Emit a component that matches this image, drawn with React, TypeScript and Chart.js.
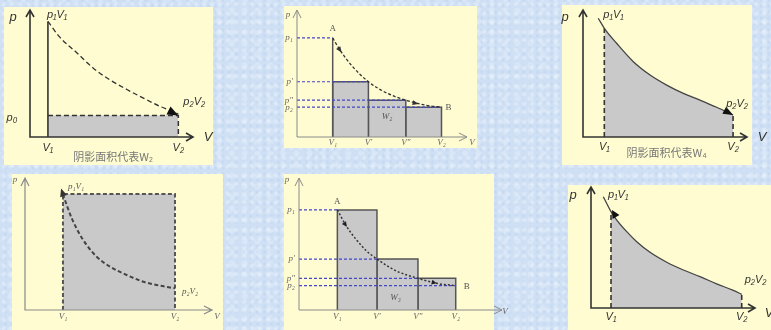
import React, { useEffect, useRef } from "react";
import { Chart, registerables } from "chart.js";
Chart.register(...registerables);

const W = 771;
const H = 330;

// ---------- Panel A (top-left): expansion against constant p0 ----------
const aV = [1.1, 9.1];
const aVLabels = ["V₁", "V₂"];
const aP0 = [1.7];
const aCurveV = [1.1, 1.8, 2.9, 3.9, 4.9, 6.0, 6.9, 8.0, 8.8, 9.1];
const aCurveP = [9.1, 7.9, 6.6, 5.4, 4.5, 3.7, 3.1, 2.4, 2.0, 1.8];
const aCaption = "阴影面积代表W₂";

// ---------- Panel B (top-middle): lower staircase ----------
const bV = [2.1, 4.2, 6.4, 8.5];
const bVLabels = ["V₁", "V′", "V″", "V₂"];
const bP = [7.8, 4.35, 2.9, 2.35];
const bPLabels = ["p₁", "p′", "p″", "p₂"];
const bCurveV = [2.1, 2.6, 3.3, 4.2, 5.3, 6.4, 7.6, 8.5];
const bCurveP = [7.8, 6.7, 5.5, 4.35, 3.45, 2.9, 2.5, 2.35];

// ---------- Panel C (top-right): reversible expansion ----------
const cCurveV = [0.93, 1.3, 2.05, 3.07, 4.09, 5.1, 6.12, 7.13, 8.15, 9.15];
const cCurveP = [9.35, 8.56, 7.38, 5.93, 4.88, 4.09, 3.44, 2.91, 2.34, 1.73];
const cVLabels = ["V₁", "V₂"];
const cCaption = "阴影面积代表W₄";

// ---------- Panel D (bottom-left): compression at constant p1 ----------
const dCurveV = [2.03, 2.23, 2.5, 2.85, 3.3, 3.83, 4.55, 5.44, 6.33, 7.22, 8.02];
const dCurveP = [8.79, 7.95, 6.95, 5.93, 4.92, 4.04, 3.28, 2.65, 2.14, 1.84, 1.64];
const dVLabels = ["V₁", "V₂"];

// ---------- Panel E (bottom-middle): upper staircase ----------
const eV = [1.89, 3.84, 5.86, 7.72];
const eVLabels = ["V₁", "V′", "V″", "V₂"];
const eP = [7.58, 3.86, 2.4, 1.84];
const ePLabels = ["p₁", "p′", "p″", "p₂"];
const eCurveV = [1.89, 2.35, 2.84, 3.33, 3.84, 4.81, 5.86, 6.78, 7.72];
const eCurveP = [7.58, 6.31, 5.3, 4.47, 3.86, 2.95, 2.4, 2.02, 1.84];

// ---------- Panel F (bottom-right): reversible compression ----------
const fCurveV = [0.75, 1.22, 1.57, 2.18, 2.79, 3.6, 4.62, 5.63, 6.65, 7.66, 8.68, 9.19];
const fCurveP = [9.2, 7.96, 7.27, 6.31, 5.48, 4.6, 3.78, 3.14, 2.59, 2.0, 1.45, 1.13];
const fVLabels = ["V₁", "V₂"];

// ---------- styling ----------
const GRAY = "#c9c9c9";
const BLUE = "#4646c8";
const SANS = "italic 11px 'Liberation Sans', Arial, sans-serif";
const SANS_BIG = "italic 13px 'Liberation Sans', Arial, sans-serif";
const SERIF = "italic 9px 'Liberation Serif', 'Times New Roman', serif";
const SERIF_UP = "9px 'Liberation Serif', 'Times New Roman', serif";
const CJK = "11px 'Noto Sans CJK SC', sans-serif";

const BOXES = [
  { l: 4, t: 7, w: 209, h: 158 },
  { l: 284, t: 6, w: 193, h: 142 },
  { l: 562, t: 5, w: 190, h: 160 },
  { l: 12, t: 174, w: 211, h: 156 },
  { l: 284, t: 174, w: 210, h: 156 },
  { l: 568, t: 185, w: 203, h: 145 },
];

const last = (a: number[]) => a[a.length - 1];
const pts = (xs: number[], ys: number[]) => xs.map((x, i) => ({ x, y: ys[i] }));
const seg = (x0: number, y0: number, x1: number, y1: number) => [
  { x: x0, y: y0 },
  { x: x1, y: y1 },
];
const rect = (a: number, b: number, h: number) => [
  { x: a, y: 0 },
  { x: a, y: h },
  { x: b, y: h },
  { x: b, y: 0 },
];
const ds = (data: any[], o: any = {}) => ({
  data,
  pointRadius: 0,
  borderWidth: 1.5,
  borderColor: "#333",
  backgroundColor: "transparent",
  fill: false,
  tension: 0,
  clip: false,
  ...o,
});
const L = (t: string, x: number, y: number, dx: number, dy: number, f: string, a: CanvasTextAlign = "center", c = "#333") => ({ t, x, y, dx, dy, f, a, c });
const HD = (x: number, y: number, fx: number, fy: number, len: number, w: number, c = "#111") => ({ x, y, fx, fy, len, w, c });

// ---------- panel configs ----------
const panels: any[] = [];

// A
panels.push({
  frame: { ox: 30, oy: 137, tx: 193, ty: 10 },
  axisColor: "#333", axisWidth: 1.6, arrow: [7, 4],
  datasets: [
    ds(pts(aCurveV, aCurveP), { borderDash: [5, 3], borderWidth: 1.3, cubicInterpolationMode: "monotone", order: 0 }),
    ds(seg(aV[0], 0, aV[0], aCurveP[0]), { borderWidth: 1.6, order: 1 }),
    ds([{ x: aV[0], y: aP0[0] }, { x: aV[1], y: aP0[0] }, { x: aV[1], y: 0 }], { fill: "origin", backgroundColor: GRAY, borderDash: [5, 3], borderWidth: 1.5, order: 2 }),
  ],
  heads: [HD(aV[1], aP0[0], 8.4, 2.15, 11, 4.5)],
  labels: [
    L("p", 0, 10, -17, 7, SANS_BIG),
    L("V", 10, 0, 15, 0, SANS_BIG),
    L("p₀", 0, aP0[0], -18, 3, SANS),
    L(aVLabels[0], aV[0], 0, 0, 11, SANS),
    L(aVLabels[1], aV[1], 0, 0, 11, SANS),
    L("p₁V₁", aV[0], aCurveP[0], -1, -6, SANS, "left"),
    L("p₂V₂", aV[1], last(aCurveP), 5, -12, SANS, "left"),
    L(aCaption, (aV[0] + aV[1]) / 2, 0, 0, 20, CJK, "center", "#777"),
  ],
});

// B
panels.push({
  frame: { ox: 297, oy: 137, tx: 467, ty: 10 },
  axisColor: "#8a8a8a", axisWidth: 1, arrow: [8, 4],
  datasets: [
    ds(pts(bCurveV, bCurveP), { borderDash: [3, 2], borderWidth: 1.3, cubicInterpolationMode: "monotone", order: 0 }),
    ...bP.map((p, i) => ds(seg(0, p, bV[i], p), { borderColor: BLUE, borderDash: [3, 2], borderWidth: 1.2, order: 1 })),
    ds(seg(bV[0], 0, bV[0], bP[0]), { borderColor: "#555", order: 2 }),
    ...[0, 1, 2].map((i) => ds(rect(bV[i], bV[i + 1], bP[i + 1]), { fill: "origin", backgroundColor: GRAY, borderColor: "#555", borderWidth: 1.5, order: 3 })),
  ],
  heads: [HD(2.62, 6.65, 2.3, 7.3, 6, 2.5, "#333"), HD(7.15, 2.6, 6.5, 2.8, 6, 2.5, "#333")],
  labels: [
    L("p", 0, 10, -9, 5, SERIF, "center", "#666"),
    L("V", 10, 0, 5, 6, SERIF, "center", "#666"),
    ...bP.map((p, i) => L(bPLabels[i], 0, p, -4, 0, SERIF, "right", "#666")),
    ...bV.map((v, i) => L(bVLabels[i], v, 0, 0, 6, SERIF, "center", "#666")),
    L("A", bV[0], bP[0], 0, -9, SERIF_UP, "center", "#555"),
    L("B", last(bV), last(bP), 7, 0, SERIF_UP, "center", "#555"),
    L("W₂", (bV[1] + bV[2]) / 2, 0, 0, -20, SERIF, "center", "#555"),
  ],
});

// C
panels.push({
  frame: { ox: 583, oy: 137, tx: 747, ty: 10 },
  axisColor: "#333", axisWidth: 1.6, arrow: [7, 4],
  datasets: [
    ds(pts(cCurveV, cCurveP), { borderColor: "#444", borderWidth: 1.3, cubicInterpolationMode: "monotone", order: 0 }),
    ds(seg(cCurveV[1], 0, cCurveV[1], cCurveP[1]), { borderDash: [5, 3], borderWidth: 1.6, order: 1 }),
    ds(seg(last(cCurveV), 0, last(cCurveV), last(cCurveP)), { borderDash: [5, 3], borderWidth: 1.6, order: 1 }),
    ds(pts(cCurveV.slice(1), cCurveP.slice(1)), { fill: "origin", backgroundColor: GRAY, borderColor: "transparent", borderWidth: 0, cubicInterpolationMode: "monotone", order: 3 }),
  ],
  heads: [HD(last(cCurveV), last(cCurveP), 8.4, 2.25, 10, 4)],
  labels: [
    L("p", 0, 10, -18, 7, SANS_BIG),
    L("V", 10, 0, 15, 0, SANS_BIG),
    L(cVLabels[0], cCurveV[1], 0, 0, 10, SANS),
    L(cVLabels[1], last(cCurveV), 0, 0, 10, SANS),
    L("p₁V₁", cCurveV[1], cCurveP[1], -1, -13, SANS, "left"),
    L("p₂V₂", last(cCurveV), last(cCurveP), 4, -11, SANS),
    L(cCaption, (cCurveV[1] + last(cCurveV)) / 2, 0, -2, 16, CJK, "center", "#777"),
  ],
});

// D
panels.push({
  frame: { ox: 25, oy: 310, tx: 212, ty: 178 },
  axisColor: "#8a8a8a", axisWidth: 1.2, arrow: [8, 4],
  datasets: [
    ds(pts(dCurveV, dCurveP), { borderColor: "#444", borderDash: [4, 2.5], borderWidth: 2, cubicInterpolationMode: "monotone", order: 0 }),
    ds(rect(dCurveV[0], last(dCurveV), dCurveP[0]), { fill: "origin", backgroundColor: GRAY, borderColor: "#555", borderDash: [4, 2.5], borderWidth: 2, order: 2 }),
  ],
  heads: [HD(1.93, 9.2, 2.2, 8.0, 8, 3.5, "#333")],
  labels: [
    L("p", 0, 10, -10, 2, SERIF, "center", "#666"),
    L("V", 10, 0, 5, 7, SERIF, "center", "#666"),
    L(dVLabels[0], dCurveV[0], 0, 0, 7, SERIF, "center", "#666"),
    L(dVLabels[1], last(dCurveV), 0, 0, 7, SERIF, "center", "#666"),
    L("p₁V₁", dCurveV[0], dCurveP[0], 5, -7, SERIF, "left", "#555"),
    L("p₂V₂", last(dCurveV), last(dCurveP), 7, 3, SERIF, "left", "#555"),
  ],
});

// E
panels.push({
  frame: { ox: 299, oy: 310, tx: 502, ty: 178 },
  axisColor: "#8a8a8a", axisWidth: 1, arrow: [8, 4],
  datasets: [
    ds(pts(eCurveV, eCurveP), { borderDash: [2, 2], borderWidth: 1.5, cubicInterpolationMode: "monotone", order: 0 }),
    ...eP.map((p, i) => ds(seg(0, p, eV[i], p), { borderColor: BLUE, borderDash: [3, 2], borderWidth: 1.2, order: 1 })),
    ...[0, 1, 2].map((i) => ds(rect(eV[i], eV[i + 1], eP[i]), { fill: "origin", backgroundColor: GRAY, borderColor: "#555", borderWidth: 1.5, order: 3 })),
  ],
  heads: [HD(2.35, 6.31, 2.1, 6.9, 5, 2.5, "#222"), HD(6.78, 2.02, 6.2, 2.25, 5, 2.5, "#222")],
  labels: [
    L("p", 0, 10, -12, 2, SERIF, "center", "#666"),
    L("V", 10, 0, 3, 2, SERIF, "center", "#666"),
    ...eP.map((p, i) => L(ePLabels[i], 0, p, -4, 0, SERIF, "right", "#666")),
    ...eV.map((v, i) => L(eVLabels[i], v, 0, 0, 7, SERIF, "center", "#666")),
    L("A", eV[0], eP[0], 0, -8, SERIF_UP, "center", "#555"),
    L("B", last(eV), last(eP), 11, 1, SERIF_UP, "center", "#555"),
    L("W₃", (eV[1] + eV[2]) / 2, 0, -2, -12, SERIF, "center", "#555"),
  ],
});

// F
panels.push({
  frame: { ox: 591, oy: 308, tx: 755, ty: 187 },
  axisColor: "#333", axisWidth: 1.6, arrow: [7, 4],
  datasets: [
    ds(pts(fCurveV, fCurveP), { borderColor: "#444", borderWidth: 1.3, cubicInterpolationMode: "monotone", order: 0 }),
    ds(seg(fCurveV[1], 0, fCurveV[1], fCurveP[1]), { borderDash: [5, 3], borderWidth: 1.6, order: 1 }),
    ds(seg(last(fCurveV), 0, last(fCurveV), last(fCurveP)), { borderDash: [5, 3], borderWidth: 1.6, order: 1 }),
    ds(pts(fCurveV.slice(1), fCurveP.slice(1)), { fill: "origin", backgroundColor: GRAY, borderColor: "transparent", borderWidth: 0, cubicInterpolationMode: "monotone", order: 3 }),
  ],
  heads: [HD(1.28, 8.1, 1.75, 7.0, 8, 4)],
  labels: [
    L("p", 0, 10, -18, 8, SANS_BIG),
    L("V", 10, 0, 14, 5, SANS_BIG),
    L(fVLabels[0], fCurveV[1], 0, 0, 9, SANS),
    L(fVLabels[1], last(fCurveV), 0, 0, 9, SANS),
    L("p₁V₁", fCurveV[1], fCurveP[1], -3, -17, SANS, "left"),
    L("p₂V₂", last(fCurveV), last(fCurveP), 3, -14, SANS, "left"),
  ],
});

function decor(cfg: any) {
  return {
    id: "decor",
    afterDatasetsDraw(chart: any) {
      const { ctx, scales } = chart;
      const X = (v: number) => scales.x.getPixelForValue(v);
      const Y = (v: number) => scales.y.getPixelForValue(v);
      ctx.save();
      // axes with open arrowheads
      const x0 = X(0), y0 = Y(0), xt = X(10), yt = Y(10);
      const [al, aw] = cfg.arrow;
      ctx.strokeStyle = cfg.axisColor;
      ctx.lineWidth = cfg.axisWidth;
      ctx.setLineDash([]);
      ctx.lineJoin = "miter";
      ctx.beginPath();
      ctx.moveTo(x0, yt);
      ctx.lineTo(x0, y0);
      ctx.lineTo(xt, y0);
      ctx.moveTo(x0 - aw, yt + al);
      ctx.lineTo(x0, yt);
      ctx.lineTo(x0 + aw, yt + al);
      ctx.moveTo(xt - al, y0 - aw);
      ctx.lineTo(xt, y0);
      ctx.lineTo(xt - al, y0 + aw);
      ctx.stroke();
      // filled direction heads
      for (const h of cfg.heads) {
        const px = X(h.x), py = Y(h.y);
        const ang = Math.atan2(py - Y(h.fy), px - X(h.fx));
        ctx.save();
        ctx.translate(px, py);
        ctx.rotate(ang);
        ctx.fillStyle = h.c;
        ctx.beginPath();
        ctx.moveTo(0, 0);
        ctx.lineTo(-h.len, -h.w);
        ctx.lineTo(-h.len, h.w);
        ctx.closePath();
        ctx.fill();
        ctx.restore();
      }
      // labels
      ctx.textBaseline = "middle";
      for (const l of cfg.labels) {
        ctx.font = l.f;
        ctx.fillStyle = l.c;
        ctx.textAlign = l.a;
        ctx.fillText(l.t, X(l.x) + l.dx, Y(l.y) + l.dy);
      }
      ctx.restore();
    },
  };
}

function Panel({ cfg }: { cfg: any }) {
  const ref = useRef<HTMLCanvasElement>(null);
  useEffect(() => {
    const { ox, oy, tx, ty } = cfg.frame;
    const chart = new Chart(ref.current as HTMLCanvasElement, {
      type: "line",
      data: { datasets: cfg.datasets },
      options: {
        animation: false,
        responsive: false,
        devicePixelRatio: 1,
        events: [],
        layout: { autoPadding: false, padding: { left: ox, top: ty, right: W - tx, bottom: H - oy } },
        scales: {
          x: { type: "linear", min: 0, max: 10, display: false },
          y: { type: "linear", min: 0, max: 10, display: false },
        },
        plugins: { legend: { display: false }, tooltip: { enabled: false } },
      } as any,
      plugins: [decor(cfg)],
    } as any);
    return () => chart.destroy();
  }, [cfg]);
  return (
    <canvas
      ref={ref}
      width={W}
      height={H}
      style={{ position: "absolute", left: 0, top: 0, width: W, height: H }}
    />
  );
}

export default function App() {
  return (
    <div
      style={{
        position: "absolute",
        left: 0,
        top: 0,
        width: W,
        height: H,
        overflow: "hidden",
        background:
          "radial-gradient(circle, rgba(255,255,255,0.28) 1.5px, transparent 3px) 0 0 / 8px 9px, radial-gradient(circle, rgba(255,255,255,0.22) 2px, transparent 4px) 4px 5px / 13px 11px, radial-gradient(circle, rgba(170,195,230,0.25) 1px, transparent 2px) 2px 3px / 7px 6px, #cfe0f5",
      }}
    >
      {BOXES.map((b, i) => (
        <div
          key={i}
          style={{ position: "absolute", left: b.l, top: b.t, width: b.w, height: b.h, background: "#fefcd0" }}
        />
      ))}
      {panels.map((p, i) => (
        <Panel key={i} cfg={p} />
      ))}
    </div>
  );
}
